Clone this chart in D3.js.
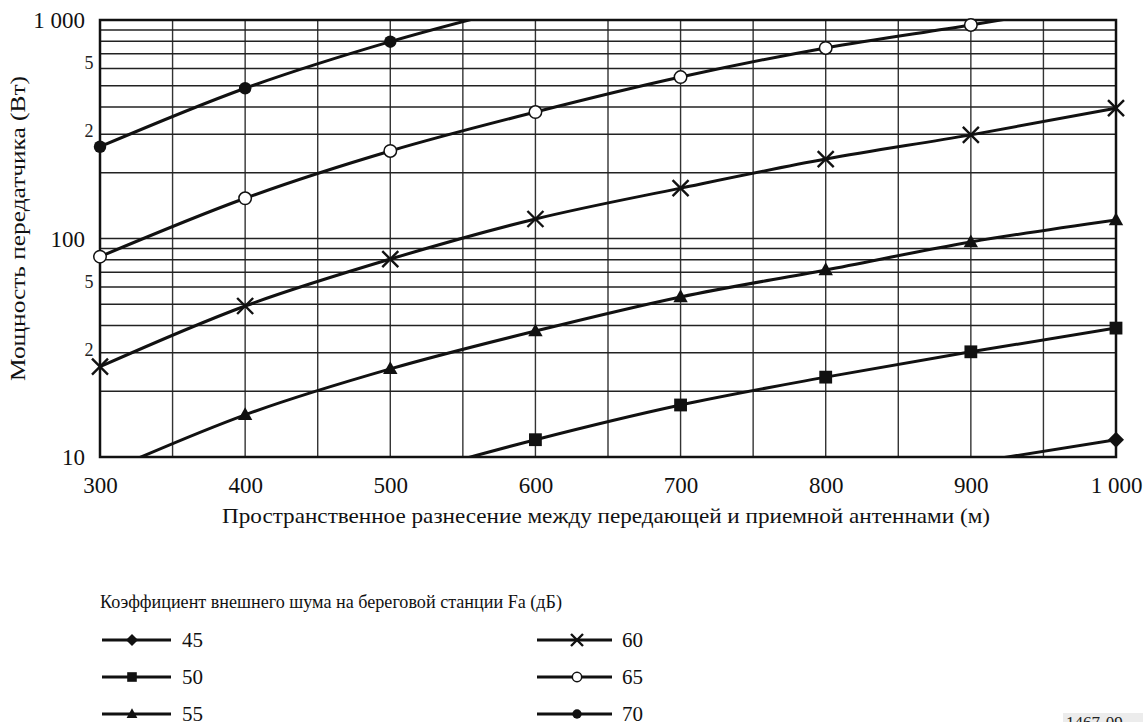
<!DOCTYPE html>
<html><head><meta charset="utf-8">
<script src="https://cdn.jsdelivr.net/npm/d3@7"></script>
<style>
html,body{margin:0;padding:0;background:#fff;}
svg{display:block;font-family:"Liberation Serif","DejaVu Serif",serif;}
</style></head>
<body><svg id="chart" width="1143" height="722"></svg>
<script>
// ---- data ----
const distances = [300, 400, 500, 600, 700, 800, 900, 1000];
const fa45 = [null, null, null, null, null, null, 9.4, 12.0];
const fa50 = [null, null, 7.9, 12.0, 17.3, 23.2, 30.3, 38.9];
const fa55 = [8.3, 15.6, 25.3, 37.7, 54, 71.8, 96.4, 121.6];
const fa60 = [25.9, 49.1, 80.5, 122.8, 170, 231, 298, 395];
const fa65 = [82.6, 152.8, 251.5, 379, 548, 745, 949, 1225];
const fa70 = [263, 487, 796, 1197, null, null, null, null];
const seriesNames = ["45", "50", "55", "60", "65", "70"];
const xTicks = [300, 400, 500, 600, 700, 800, 900, 1000];
const yMajorTicks = [10, 100, 1000];
const yMinorLabels = [5, 2];
const xTitle = "Пространственное разнесение между передающей и приемной антеннами (м)";
const yTitle = "Мощность передатчика (Вт)";
const legendTitle = "Коэффициент внешнего шума на береговой станции Fa (дБ)";
const figId = "1467-09";

// ---- layout ----
const FONT = "Liberation Serif";
const svg = d3.select("#chart");
const L = 100, R = 1116, T = 20, B = 457;
const x = d3.scaleLinear().domain([300, 1000]).range([L, R]);
const y = d3.scaleLog().domain([10, 1000]).range([B, T]);
const numFmt = d => d >= 1000 ? "1 000" : String(d);

svg.append("defs").append("clipPath").attr("id", "plotclip")
  .append("rect").attr("x", L).attr("y", T).attr("width", R - L).attr("height", B - T);

// grid
const g = svg.append("g");
const vLines = d3.range(300, 1001, 50);
g.selectAll(".vg").data(vLines).join("line")
  .attr("x1", d => x(d)).attr("x2", d => x(d)).attr("y1", T).attr("y2", B)
  .attr("stroke", "#333").attr("stroke-width", 1.4);
const hLines = [];
[10, 100].forEach(dec => { for (let k = 1; k <= 9; k++) hLines.push(dec * k); });
hLines.push(1000);
g.selectAll(".hg").data(hLines).join("line")
  .attr("x1", L).attr("x2", R).attr("y1", d => y(d)).attr("y2", d => y(d))
  .attr("stroke", "#222").attr("stroke-width", 1.5);

// frame
svg.append("rect").attr("x", L).attr("y", T).attr("width", R - L).attr("height", B - T)
  .attr("fill", "none").attr("stroke", "#111").attr("stroke-width", 2.5);

// x axis labels
const xAxis = d3.axisBottom(x).tickValues(xTicks).tickSize(0).tickPadding(0).tickFormat(numFmt);
const xa = svg.append("g").attr("transform", `translate(0,${B})`).call(xAxis);
xa.select(".domain").remove();
xa.attr("font-family", FONT);
xa.selectAll("text").attr("font-family", FONT).attr("font-size", 23)
  .attr("fill", "#111").attr("dy", null).attr("y", 36);

// y axis labels
const yAxis = d3.axisLeft(y).tickValues(yMajorTicks).tickSize(0).tickPadding(0).tickFormat(numFmt);
const ya = svg.append("g").attr("transform", `translate(${L - 15},0)`).call(yAxis);
ya.select(".domain").remove();
ya.attr("font-family", FONT);
ya.selectAll("text").attr("font-family", FONT).attr("font-size", 23)
  .attr("fill", "#111").attr("dy", "0.33em");

// minor labels (5, 2) per decade
[100, 10].forEach(dec => {
  yMinorLabels.forEach(m => {
    const yy = y(m * dec) - (m === 5 ? 23 : 42);
    svg.append("text").attr("x", 89).attr("y", yy).attr("dy", "0.35em")
      .attr("text-anchor", "middle").attr("font-size", 18).attr("fill", "#222").text(m);
  });
});

// titles
svg.append("text").attr("x", 606).attr("y", 523).attr("text-anchor", "middle")
  .attr("font-size", 22).attr("fill", "#111")
  .attr("textLength", 768).attr("lengthAdjust", "spacingAndGlyphs").text(xTitle);
svg.append("text").attr("transform", `translate(25,${(T + B) / 2 - 10}) rotate(-90)`)
  .attr("text-anchor", "middle").attr("font-size", 22).attr("fill", "#111")
  .attr("textLength", 305).attr("lengthAdjust", "spacingAndGlyphs").text(yTitle);

// markers
function marker(sel, type, s) {
  if (type === "45") {
    sel.append("path").attr("d", `M0,${-s}L${s},0L0,${s}L${-s},0Z`).attr("fill", "#111");
  } else if (type === "50") {
    sel.append("rect").attr("x", -s * 0.8).attr("y", -s * 0.8).attr("width", s * 1.6).attr("height", s * 1.6).attr("fill", "#111");
  } else if (type === "55") {
    sel.append("path").attr("d", `M0,${-s * 0.95}L${s * 0.9},${s * 0.65}L${-s * 0.9},${s * 0.65}Z`).attr("fill", "#111");
  } else if (type === "60") {
    sel.append("path").attr("d", `M${-s},${-s}L${s},${s}M${-s},${s}L${s},${-s}`)
      .attr("stroke", "#111").attr("stroke-width", 2.4).attr("fill", "none");
  } else if (type === "65") {
    sel.append("circle").attr("r", s * 0.78).attr("fill", "#fff").attr("stroke", "#111").attr("stroke-width", 1.5);
  } else if (type === "70") {
    sel.append("circle").attr("r", s * 0.78).attr("fill", "#111");
  }
}

const allSeries = [fa45, fa50, fa55, fa60, fa65, fa70];
const line = d3.line().defined(d => d.v != null).x(d => x(d.d)).y(d => y(d.v)).curve(d3.curveMonotoneX);
const plot = svg.append("g");
allSeries.forEach((vals, i) => {
  const pts = distances.map((d, j) => ({ d, v: vals[j] }));
  plot.append("path").attr("d", line(pts)).attr("fill", "none").attr("stroke", "#111")
    .attr("stroke-width", 3).attr("clip-path", "url(#plotclip)");
  pts.filter(p => p.v != null && p.v >= 10 && p.v <= 1000).forEach(p => {
    const m = plot.append("g").attr("transform", `translate(${x(p.d)},${y(p.v)})`);
    marker(m, seriesNames[i], 8);
  });
});

// legend
svg.append("text").attr("x", 100).attr("y", 608).attr("font-size", 18.5).attr("fill", "#111")
  .attr("textLength", 462).attr("lengthAdjust", "spacingAndGlyphs").text(legendTitle);
const legPos = [
  { x0: 102, x1: 171, mx: 132, tx: 182 },
  { x0: 537, x1: 612, mx: 577, tx: 622 }
];
const rowsY = [640, 677, 714];
seriesNames.forEach((name, i) => {
  const col = legPos[Math.floor(i / 3)], yy = rowsY[i % 3];
  const lg = svg.append("g");
  lg.append("line").attr("x1", col.x0).attr("x2", col.x1).attr("y1", yy).attr("y2", yy)
    .attr("stroke", "#111").attr("stroke-width", 3);
  const m = lg.append("g").attr("transform", `translate(${col.mx},${yy})`);
  marker(m, name, 6);
  lg.append("text").attr("x", col.tx).attr("y", yy).attr("dy", "0.33em")
    .attr("font-size", 21).attr("fill", "#111").text(name);
});

// figure id
svg.append("rect").attr("x", 1063).attr("y", 713).attr("width", 80).attr("height", 12).attr("fill", "#ececec");
svg.append("text").attr("x", 1066).attr("y", 728).attr("font-size", 17).attr("fill", "#222").text(figId);
</script>
</body></html>
